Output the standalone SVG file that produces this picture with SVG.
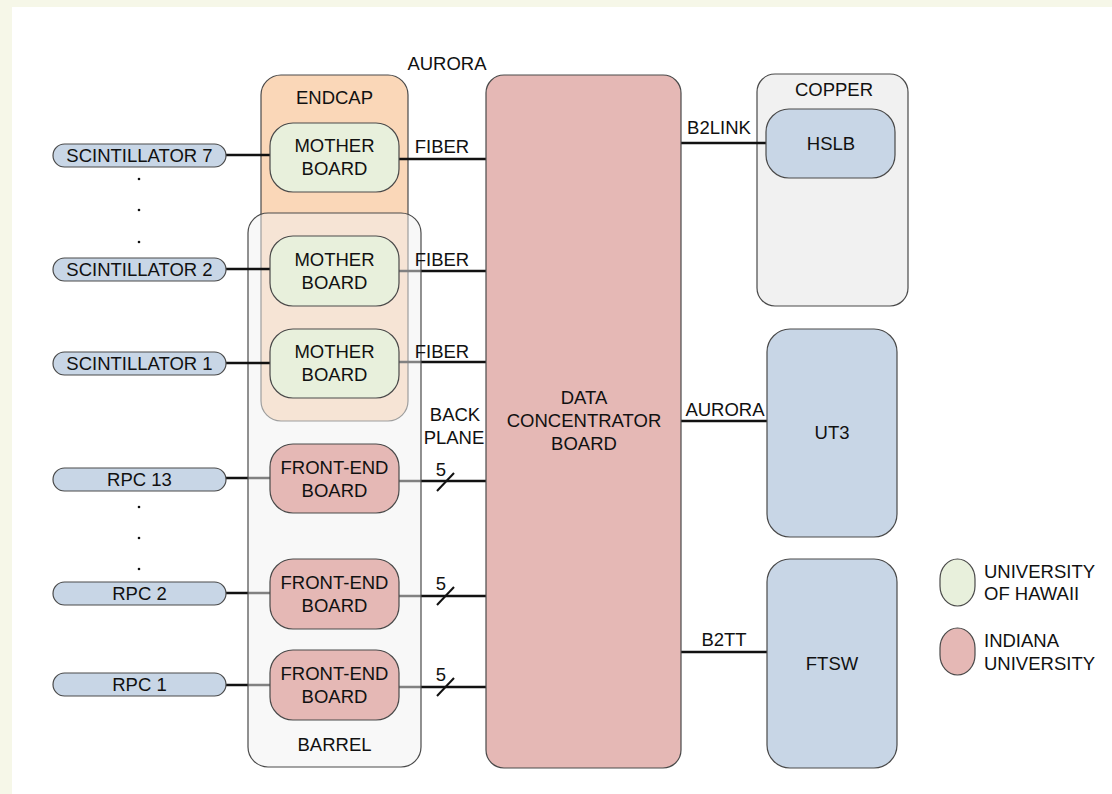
<svg xmlns="http://www.w3.org/2000/svg" width="1112" height="794" viewBox="0 0 1112 794">
<style>
text{font-family:"Liberation Sans",Arial,sans-serif;font-size:18.5px;fill:#111;text-anchor:middle;dominant-baseline:central}
.box{stroke:#4a4a4a;stroke-width:1.2}
.green{fill:#e8f0dc}
.red{fill:#e5b8b5}
.blue{fill:#c8d6e6}
.conn{stroke:#111;stroke-width:2.4;fill:none}
.slash{stroke:#111;stroke-width:2;fill:none}
.lg{text-anchor:start}
</style>
<rect x="0" y="0" width="1112" height="794" fill="#f6f7e8"/>
<rect x="12" y="7" width="1100" height="787" fill="#ffffff"/>

<g id="endcap">
<rect class="box" x="261" y="75" width="147" height="346" rx="20" fill="#fad7b8"/>
<text x="334.5" y="97">ENDCAP</text>
</g>

<g id="copper">
<rect class="box" x="757" y="74" width="151" height="232" rx="18" fill="#f1f1f1"/>
<text x="834" y="89">COPPER</text>
</g>

<g id="connectors">
<line class="conn" x1="399" y1="159" x2="486" y2="159"/>
<line class="conn" x1="399" y1="271" x2="486" y2="271"/>
<line class="conn" x1="399" y1="362" x2="486" y2="362"/>
<line class="conn" x1="226" y1="478" x2="270" y2="478"/>
<line class="conn" x1="399" y1="481" x2="486" y2="481"/>
<line class="conn" x1="226" y1="593" x2="270" y2="593"/>
<line class="conn" x1="399" y1="596" x2="486" y2="596"/>
<line class="conn" x1="226" y1="685" x2="270" y2="685"/>
<line class="conn" x1="399" y1="687" x2="486" y2="687"/>
<line class="conn" x1="681" y1="143" x2="766" y2="143"/>
<line class="conn" x1="681" y1="421" x2="767" y2="421"/>
<line class="conn" x1="681" y1="652" x2="767" y2="652"/>
<line class="slash" x1="437" y1="491" x2="454" y2="473"/>
<line class="slash" x1="437" y1="605" x2="454" y2="587"/>
<line class="slash" x1="437" y1="696" x2="454" y2="678"/>
</g>

<g id="barrel">
<rect x="248" y="213" width="173" height="554" rx="20" fill="#f1f1f1" fill-opacity="0.5" stroke="#4a4a4a" stroke-width="1.2"/>
<text x="334.5" y="744">BARREL</text>
</g>

<g id="connectors-scint">
<line class="conn" x1="226" y1="155" x2="270" y2="155"/>
<line class="conn" x1="226" y1="269" x2="270" y2="269"/>
<line class="conn" x1="226" y1="363" x2="270" y2="363"/>
</g>

<g id="scint7"><rect class="box blue" x="53" y="144" width="173" height="23" rx="11.5"/><text x="139.5" y="155.5">SCINTILLATOR 7</text></g>
<g id="scint2"><rect class="box blue" x="53" y="258" width="173" height="23" rx="11.5"/><text x="139.5" y="269.5">SCINTILLATOR 2</text></g>
<g id="scint1"><rect class="box blue" x="53" y="352" width="173" height="23" rx="11.5"/><text x="139.5" y="363.5">SCINTILLATOR 1</text></g>
<g id="rpc13"><rect class="box blue" x="53" y="468" width="173" height="23" rx="11.5"/><text x="139.5" y="479.5">RPC 13</text></g>
<g id="rpc2"><rect class="box blue" x="53" y="582" width="173" height="23" rx="11.5"/><text x="139.5" y="593.5">RPC 2</text></g>
<g id="rpc1"><rect class="box blue" x="53" y="673" width="173" height="23" rx="11.5"/><text x="139.5" y="684.5">RPC 1</text></g>

<g id="dots" fill="#111">
<circle cx="139" cy="179" r="1.3"/><circle cx="139" cy="210" r="1.3"/><circle cx="139" cy="242" r="1.3"/>
<circle cx="139" cy="507" r="1.3"/><circle cx="139" cy="538" r="1.3"/><circle cx="139" cy="569" r="1.3"/>
</g>

<g id="mb7"><rect class="box green" x="270" y="123" width="129" height="69" rx="23"/><text x="334.5" y="145">MOTHER</text><text x="334.5" y="168">BOARD</text></g>
<g id="mb2"><rect class="box green" x="270" y="236" width="129" height="70" rx="23"/><text x="334.5" y="259">MOTHER</text><text x="334.5" y="282">BOARD</text></g>
<g id="mb1"><rect class="box green" x="270" y="329" width="129" height="69" rx="23"/><text x="334.5" y="351">MOTHER</text><text x="334.5" y="374">BOARD</text></g>
<g id="feb13"><rect class="box red" x="270" y="444" width="129" height="69" rx="23"/><text x="334.5" y="467">FRONT-END</text><text x="334.5" y="490">BOARD</text></g>
<g id="feb2"><rect class="box red" x="270" y="559" width="129" height="70" rx="23"/><text x="334.5" y="582">FRONT-END</text><text x="334.5" y="605">BOARD</text></g>
<g id="feb1"><rect class="box red" x="270" y="650" width="129" height="70" rx="23"/><text x="334.5" y="673">FRONT-END</text><text x="334.5" y="696">BOARD</text></g>

<g id="dcb"><rect class="box red" x="486" y="75" width="195" height="693" rx="18"/><text x="584" y="397">DATA</text><text x="584" y="420">CONCENTRATOR</text><text x="584" y="443">BOARD</text></g>
<g id="hslb"><rect class="box blue" x="766" y="109" width="129" height="69" rx="23"/><text x="831" y="143">HSLB</text></g>
<g id="ut3"><rect class="box blue" x="767" y="329" width="130" height="208" rx="23"/><text x="832" y="432">UT3</text></g>
<g id="ftsw"><rect class="box blue" x="767" y="559" width="130" height="209" rx="23"/><text x="832" y="663">FTSW</text></g>

<g id="legend">
<rect class="box green" x="940" y="559" width="35" height="47" rx="17.5" ry="20"/>
<text class="lg" x="984" y="571">UNIVERSITY</text><text class="lg" x="984" y="593">OF HAWAII</text>
<rect class="box red" x="940" y="628" width="35" height="47" rx="17.5" ry="20"/>
<text class="lg" x="984" y="640">INDIANA</text><text class="lg" x="984" y="663">UNIVERSITY</text>
</g>

<g id="labels">
<text x="447" y="63">AURORA</text>
<text x="442" y="146">FIBER</text>
<text x="442" y="259">FIBER</text>
<text x="442" y="351">FIBER</text>
<text x="455" y="414">BACK</text>
<text x="454" y="437">PLANE</text>
<text x="441" y="469">5</text>
<text x="441" y="583">5</text>
<text x="441" y="674">5</text>
<text x="719" y="127">B2LINK</text>
<text x="725" y="409">AURORA</text>
<text x="724" y="639">B2TT</text>
</g>
</svg>
